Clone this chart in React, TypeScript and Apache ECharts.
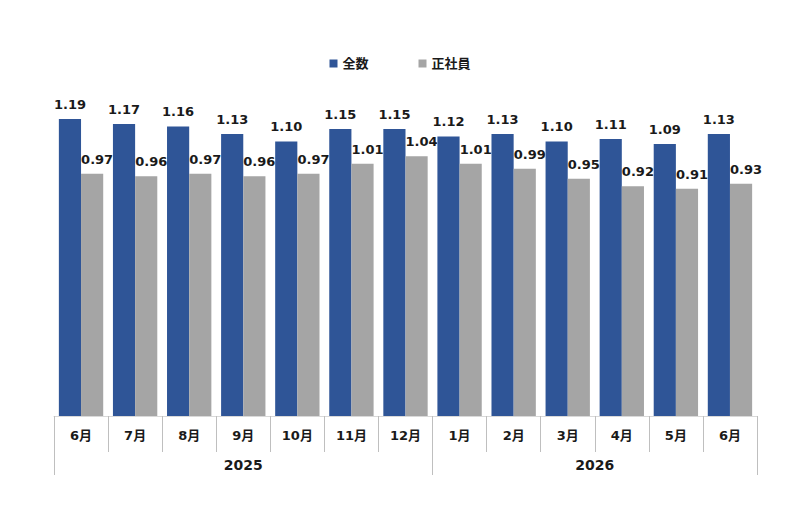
import React, { useEffect, useRef } from "react";
import * as echarts from "echarts";

const months = ["6月", "7月", "8月", "9月", "10月", "11月", "12月", "1月", "2月", "3月", "4月", "5月", "6月"];
const yearSlots = ["", "", "", "", "", "", "", "2025", "", "", "", "", "", "", "", "", "", "", "", "", "2026", "", "", "", "", "", ""];
const yearBoundaries = [0, 14, 26];
const allValues = [1.19, 1.17, 1.16, 1.13, 1.10, 1.15, 1.15, 1.12, 1.13, 1.10, 1.11, 1.09, 1.13];
const regularValues = [0.97, 0.96, 0.97, 0.96, 0.97, 1.01, 1.04, 1.01, 0.99, 0.95, 0.92, 0.91, 0.93];
const seriesNames = ["全数", "正社員"];

const FONT = "'DejaVu Sans', 'Noto Sans CJK JP', sans-serif";

export default function App() {
  const ref = useRef<HTMLDivElement>(null);
  useEffect(() => {
    document.body.style.margin = "0";
    const chart = echarts.init(ref.current!, undefined, { renderer: "svg" });
    const labelStyle = {
      show: true,
      position: "top" as const,
      distance: 8,
      fontFamily: FONT,
      fontWeight: "bold" as const,
      fontSize: 13,
      color: "#1a1a1a",
      formatter: (p: any) => Number(p.value).toFixed(2),
    };
    chart.setOption({
      animation: false,
      backgroundColor: "#ffffff",
      legend: {
        top: 52,
        left: "center",
        itemWidth: 8,
        itemHeight: 8,
        itemGap: 50,
        icon: "rect",
        textStyle: { fontFamily: FONT, fontWeight: "bold", fontSize: 13, color: "#1a1a1a" },
        data: seriesNames,
      },
      grid: { left: 54, right: 43, top: 64, bottom: 92, containLabel: false },
      yAxis: { type: "value", min: 0, max: 1.41, show: false, splitLine: { show: false } },
      xAxis: [
        {
          type: "category",
          data: months,
          position: "bottom",
          axisLine: { show: true, lineStyle: { color: "#d9d9d9", width: 1 } },
          axisTick: { show: true, length: 36, lineStyle: { color: "#bfbfbf" } },
          axisLabel: { interval: 0, margin: 13, fontFamily: FONT, fontWeight: "bold", fontSize: 13, color: "#1a1a1a" },
        },
        {
          type: "category",
          data: yearSlots,
          position: "bottom",
          offset: 34,
          boundaryGap: false,
          axisLine: { show: false },
          axisTick: {
            show: true,
            length: 25,
            interval: (i: number) => yearBoundaries.includes(i),
            lineStyle: { color: "#bfbfbf" },
          },
          axisLabel: { interval: 0, margin: 8, fontFamily: FONT, fontWeight: "bold", fontSize: 14, color: "#1a1a1a" },
        },
      ],
      series: [
        {
          name: seriesNames[0],
          type: "bar",
          data: allValues,
          xAxisIndex: 0,
          barGap: "0%",
          barCategoryGap: "18%",
          itemStyle: { color: "#2F5597" },
          label: labelStyle,
        },
        {
          name: seriesNames[1],
          type: "bar",
          data: regularValues,
          xAxisIndex: 0,
          itemStyle: { color: "#A5A5A5" },
          label: { ...labelStyle, offset: [5, 0] },
        },
      ],
    });
    return () => chart.dispose();
  }, []);
  return <div ref={ref} style={{ width: 800, height: 508 }} />;
}
